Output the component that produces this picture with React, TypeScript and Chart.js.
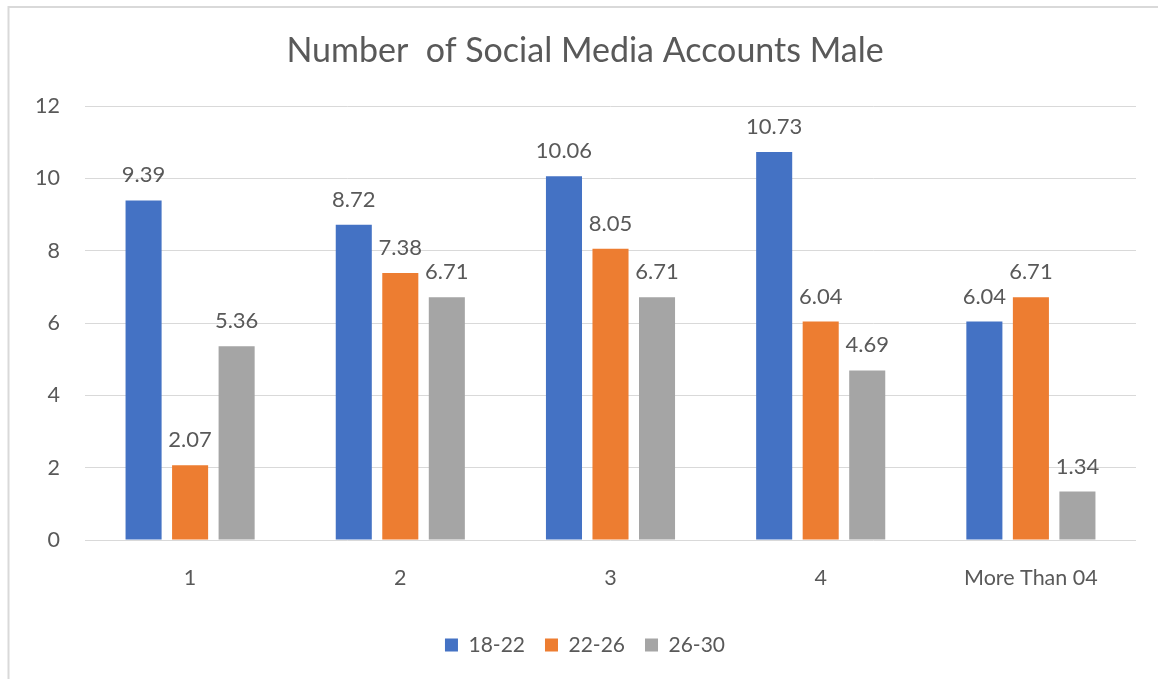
import React, { useEffect, useRef } from "react";
import { Chart, registerables } from "chart.js";

Chart.register(...registerables);

const categories = ["1", "2", "3", "4", "More Than 04"];
const series1822 = [9.39, 8.72, 10.06, 10.73, 6.04];
const series2226 = [2.07, 7.38, 8.05, 6.04, 6.71];
const series2630 = [5.36, 6.71, 6.71, 4.69, 1.34];
const seriesNames = ["18-22", "22-26", "26-30"];
const yTicks = { min: 0, max: 12, step: 2 };
const titleText = "Number  of Social Media Accounts Male";

const FONT = "Lato";
const TEXT = "#595959";

const framePlugin = {
  id: "frame",
  beforeDraw(chart: any) {
    const ctx = chart.ctx;
    ctx.save();
    ctx.fillStyle = "#ffffff";
    ctx.fillRect(0, 0, chart.width, chart.height);
    ctx.strokeStyle = "#d9d9d9";
    ctx.lineWidth = 2;
    ctx.beginPath();
    ctx.moveTo(8.5, chart.height);
    ctx.lineTo(8.5, 7);
    ctx.lineTo(chart.width, 7);
    ctx.stroke();
    ctx.restore();
  },
};

const labelPlugin = {
  id: "valueLabels",
  afterDatasetsDraw(chart: any) {
    const ctx = chart.ctx;
    ctx.save();
    ctx.font = `22px ${FONT}`;
    ctx.fillStyle = TEXT;
    ctx.textAlign = "center";
    ctx.textBaseline = "alphabetic";
    chart.data.datasets.forEach((ds: any, i: number) => {
      const meta = chart.getDatasetMeta(i);
      meta.data.forEach((el: any, j: number) => {
        const v = ds.data[j] as number;
        ctx.fillText(v.toFixed(2), el.x, el.y - 18);
      });
    });
    ctx.restore();
  },
};

export default function App() {
  const ref = useRef<HTMLCanvasElement>(null);
  useEffect(() => {
    if (!ref.current) return;
    const chart = new Chart(ref.current, {
      type: "bar",
      data: {
        labels: categories,
        datasets: [
          { label: seriesNames[0], data: series1822, backgroundColor: "#4472C4" },
          { label: seriesNames[1], data: series2226, backgroundColor: "#ED7D31" },
          { label: seriesNames[2], data: series2630, backgroundColor: "#A5A5A5" },
        ],
      },
      options: {
        responsive: false,
        animation: false,
        datasets: { bar: { categoryPercentage: 0.664, barPercentage: 0.775 } },
        layout: { padding: { left: 34, right: 22, top: 0, bottom: 13.5 } },
        plugins: {
          title: {
            display: true,
            text: titleText,
            color: TEXT,
            font: { family: FONT, size: 34, weight: "normal" },
            padding: { top: 30.6, bottom: 34.6 },
          },
          legend: {
            position: "bottom",
            labels: {
              color: TEXT,
              font: { family: FONT, size: 21 },
              boxWidth: 13,
              boxHeight: 13,
              padding: 20,
            },
          },
          tooltip: { enabled: false },
        },
        scales: {
          x: {
            grid: { display: false, drawTicks: false },
            border: { display: false },
            ticks: { color: TEXT, font: { family: FONT, size: 21.5 }, padding: 25.1 },
            afterFit: (s: any) => { s.height = 74.5; },
          },
          y: {
            min: yTicks.min,
            max: yTicks.max,
            grid: { color: "#d9d9d9", lineWidth: 1, drawTicks: false },
            border: { display: false },
            ticks: { stepSize: yTicks.step, color: TEXT, font: { family: FONT, size: 21.5 }, padding: 25 },
            afterFit: (s: any) => { s.width = 51; },
          },
        },
      },
      plugins: [framePlugin, labelPlugin],
    });
    return () => chart.destroy();
  }, []);
  return (
    <div style={{ position: "fixed", left: 0, top: 0, width: 1158, height: 679, overflow: "hidden" }}>
      <canvas ref={ref} width={1158} height={679} style={{ width: 1158, height: 679, display: "block" }} />
    </div>
  );
}
